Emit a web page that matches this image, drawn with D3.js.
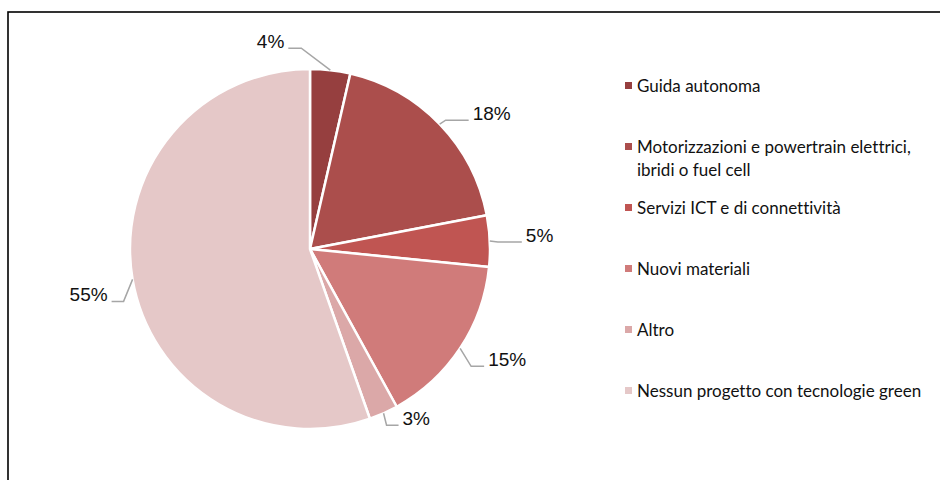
<!DOCTYPE html>
<html><head><meta charset="utf-8">
<script src="https://cdn.jsdelivr.net/npm/d3@7"></script>
<style>html,body{margin:0;padding:0;background:#fff;} text{font-variant-ligatures:none;}</style>
</head><body>
<script>
const categories = ["Guida autonoma","Motorizzazioni e powertrain elettrici, ibridi o fuel cell","Servizi ICT e di connettività","Nuovi materiali","Altro","Nessun progetto con tecnologie green"];
const legendLines = [["Guida autonoma"],["Motorizzazioni e powertrain elettrici,","ibridi o fuel cell"],["Servizi ICT e di connettività"],["Nuovi materiali"],["Altro"],["Nessun progetto con tecnologie green"]];
const values = [3.6, 18.4, 4.6, 15.4, 2.6, 55.4];
const labels = ["4%","18%","5%","15%","3%","55%"];
const colors = ["#963f3f","#ab4e4c","#c05552","#d07b7a","#dba8a8","#e5c8c8"];
// leader line layout: elbow offset from anchor, horizontal run
const leader = [[-29,-22,-13],[6,-4,23],[8,1,24],[11,18,13],[3,12,12],[-9,22,-12]];

const W=940,H=480;
const svg=d3.select("body").append("svg").attr("width",W).attr("height",H);
svg.append("rect").attr("x",8).attr("y",12).attr("width",W).attr("height",H)
  .attr("fill","none").attr("stroke","#000").attr("stroke-width",1.6);

const cx=310, cy=249, R=180;
const g=svg.append("g").attr("transform",`translate(${cx},${cy})`);
const pie=d3.pie().sort(null).value(d=>d)(values);
const arc=d3.arc().innerRadius(0).outerRadius(R);
g.selectAll("path").data(pie).join("path").attr("d",arc)
  .attr("fill",(d,i)=>colors[i]).attr("stroke","#fff").attr("stroke-width",2.5).attr("stroke-linejoin","round");

pie.forEach((d,i)=>{
  const a=(d.startAngle+d.endAngle)/2;
  const p0=[Math.sin(a)*R, -Math.cos(a)*R];
  const [ex,ey,run]=leader[i];
  const p1=[p0[0]+ex,p0[1]+ey];
  const p2=[p1[0]+run,p1[1]];
  g.append("polyline").attr("points",[p0,p1,p2].map(p=>p.join(",")).join(" "))
    .attr("fill","none").attr("stroke","#a6a6a6").attr("stroke-width",1.5);
  g.append("text").attr("x",p2[0]+(run<0?-4:4)).attr("y",p2[1])
    .attr("text-anchor",run<0?"end":"start")
    .attr("font-family","'Liberation Sans', Arial, sans-serif").attr("font-size",19).attr("fill","#111")
    .text(labels[i]);
});

const leg=svg.append("g");
const ly=d3.scalePoint().domain(d3.range(categories.length)).range([86,391]);
categories.forEach((c,i)=>{
  const y=ly(i);
  leg.append("rect").attr("x",625).attr("y",y-4).attr("width",7).attr("height",7).attr("fill",colors[i]);
  const t=leg.append("text").attr("x",637).attr("y",y+6)
    .attr("font-family","Lato, 'Noto Sans', sans-serif").attr("font-size",17).attr("fill","#111");
  legendLines[i].forEach((l,j)=>t.append("tspan").attr("x",637).attr("dy",j?23:0).text(l));
});
</script>
</body></html>
